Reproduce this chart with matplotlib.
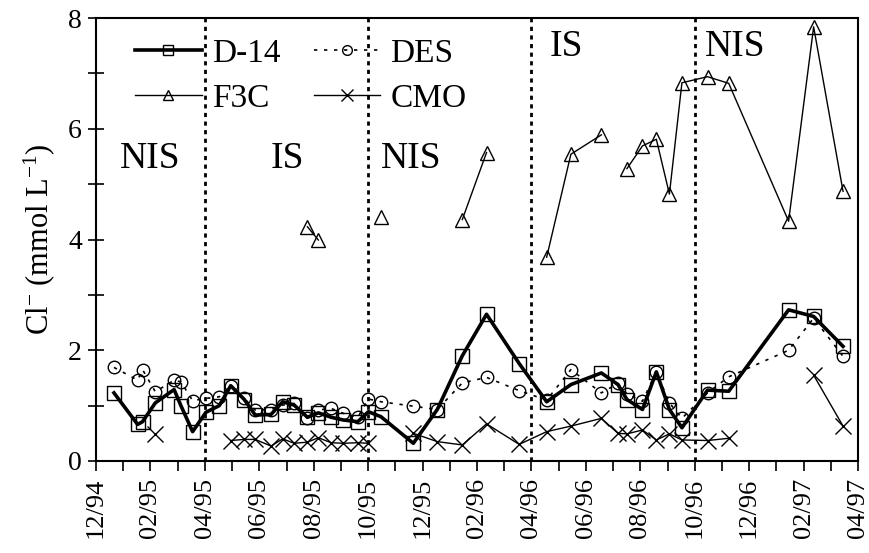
import numpy as np
import matplotlib
matplotlib.use("Agg")
import matplotlib.pyplot as plt
from matplotlib.lines import Line2D

plt.rcParams['font.family'] = ['Liberation Serif', 'DejaVu Serif']
plt.rcParams['mathtext.fontset'] = 'custom'
plt.rcParams['mathtext.rm'] = 'Liberation Serif'
plt.rcParams['mathtext.it'] = 'Liberation Serif:italic'

# sampling dates, in months since 12/94
months = [0.66, 1.53, 1.71, 2.18, 2.87, 3.12, 3.55, 4.04, 4.53, 4.95,
          5.45, 5.85, 6.43, 6.86, 7.28, 7.77, 8.17, 8.64, 9.09, 9.62,
          10.01, 10.47, 11.66, 12.54, 13.46, 14.35, 15.55, 16.56, 17.45, 18.57,
          19.18, 19.51, 20.08, 20.59, 21.07, 21.53, 22.47, 23.25, 25.45, 26.37,
          27.45]

d14 = [1.23, 0.66, 0.71, 1.05, 1.29, 1.00, 0.53, 0.88, 1.00, 1.36,
       1.11, 0.83, 0.84, 1.07, 1.01, 0.79, 0.87, 0.79, 0.74, 0.71,
       0.89, 0.80, 0.32, 0.93, 1.90, 2.65, 1.76, 1.07, 1.38, 1.59,
       1.38, 1.11, 0.93, 1.61, 0.93, 0.60, 1.28, 1.26, 2.73, 2.61,
       2.07]

des = [1.69, 1.46, 1.65, 1.25, 1.46, 1.43, 1.09, 1.13, 1.16, 1.36,
       1.13, 0.92, 0.93, 1.01, 1.04, 0.77, 0.92, 0.95, 0.86, 0.79,
       1.12, 1.07, 0.99, 0.93, 1.41, 1.51, 1.27, 1.10, 1.65, 1.23,
       1.40, 1.21, 1.08, 1.61, 1.05, 0.77, 1.23, 1.52, 2.00, 2.58,
       1.89]

f3c = [None, None, None, None, None, None, None, None, None, None,
       None, None, None, None, None, 4.23, 3.99, None, None, None,
       None, 4.41, None, None, 4.36, 5.57, None, 3.68, 5.54, 5.89,
       None, 5.28, 5.69, 5.81, 4.82, 6.83, 6.94, 6.82, 4.33, 7.84,
       4.87]

cmo = [None, None, None, 0.49, None, None, None, None, None, 0.37,
       0.39, 0.39, 0.27, 0.40, 0.32, 0.34, 0.42, 0.33, 0.32, 0.33,
       0.32, None, 0.50, 0.35, 0.29, 0.67, 0.30, 0.53, 0.63, 0.77,
       0.50, 0.49, 0.56, 0.38, 0.49, 0.38, 0.37, 0.41, None, 1.55,
       0.63]

tick_labels = ["12/94", "02/95", "04/95", "06/95", "08/95", "10/95", "12/95",
               "02/96", "04/96", "06/96", "08/96", "10/96", "12/96", "02/97",
               "04/97"]
season_breaks = [4, 10, 16, 22]
season_labels = ["NIS", "IS", "NIS", "IS", "NIS"]
season_label_x = [2.0, 7.05, 11.6, 17.28, 23.5]
season_label_y = [5.29, 5.29, 5.29, 7.31, 7.31]


def arr(v):
    return np.array([np.nan if x is None else x for x in v], dtype=float)


fig = plt.figure(figsize=(8.69, 5.53), dpi=100)
ax = fig.add_axes([96 / 869, 1 - 461 / 553, (858 - 96) / 869, (461 - 18) / 553])

x = np.array(months)
ms_kw = dict(fillstyle='none', markeredgecolor='black', markeredgewidth=1.0)

ax.plot(x, arr(f3c), color='black', lw=1.0, marker='^', markersize=9.5, **ms_kw, label='F3C')
ax.plot(x, arr(cmo), color='black', lw=1.0, marker='x', markersize=12, markeredgewidth=1.0,
        label='CMO')
ax.plot(x, arr(des), color='black', lw=1.2, ls=(0, (2, 4)), marker='o', markersize=9, **ms_kw,
        label='DES')
ax.plot(x, arr(d14), color='black', lw=2.6, marker='s', markersize=9.5, **ms_kw, label='D-14')

for b in season_breaks:
    ax.axvline(b, color='black', lw=2.0, ls=(0, (1.5, 1.6)))

for t, xx, yy in zip(season_labels, season_label_x, season_label_y):
    ax.text(xx, yy, t, ha='center', va='baseline', fontsize=27)

ax.set_xlim(0, 28)
ax.set_ylim(0, 8)
ax.set_xticks(np.arange(0, 29, 2))
ax.set_xticklabels(tick_labels, rotation=90, fontsize=19)
ax.set_xticks(np.arange(0, 29, 1), minor=True)
ax.set_yticks([0, 2, 4, 6, 8])
ax.set_yticklabels(['0', '2', '4', '6', '8'], fontsize=20)
ax.set_yticks(np.arange(0, 9, 1), minor=True)
ax.tick_params(axis='x', which='both', direction='out', length=7, width=1.2, pad=5)
ax.tick_params(axis='y', which='both', direction='inout', length=12, width=1.2, pad=4)
for s in ax.spines.values():
    s.set_linewidth(1.5)

ax.set_ylabel('Cl$^{-}$ (mmol L$^{-1}$)', fontsize=22, labelpad=8)

handles = [
    Line2D([], [], color='black', lw=2.6, marker='s', markersize=7, **ms_kw),
    Line2D([], [], color='black', lw=1.0, marker='^', markersize=7, **ms_kw),
    Line2D([], [], color='black', lw=1.2, ls=(0, (2, 4)), marker='o', markersize=7, **ms_kw),
    Line2D([], [], color='black', lw=1.0, marker='x', markersize=9, markeredgewidth=1.0),
]
labels = ['D-14', 'F3C', 'DES', 'CMO']
ax.legend(handles, labels, loc='upper left', bbox_to_anchor=(0.025, 1.0), ncol=2,
          frameon=False, fontsize=24, handlelength=2.0, handletextpad=0.3,
          columnspacing=1.0, labelspacing=0.45, borderaxespad=0.2)

fig.savefig('out.png', dpi=100)
